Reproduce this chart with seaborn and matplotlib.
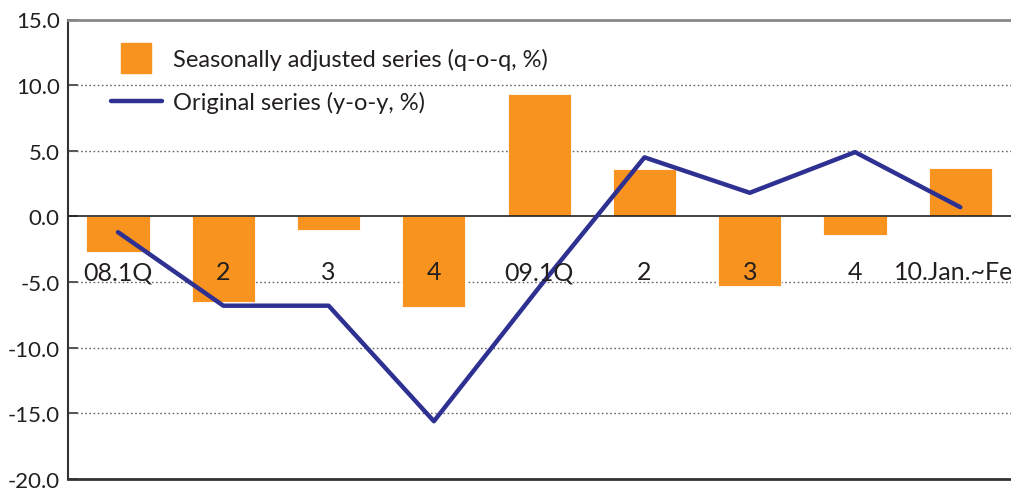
import numpy as np
import pandas as pd
import matplotlib
matplotlib.use("Agg")
import matplotlib.pyplot as plt
from matplotlib.lines import Line2D
import seaborn as sns

# Quarterly growth data
categories = ["08.1Q", "2", "3", "4", "09.1Q", "2", "3", "4", "10.Jan.~Feb"]
seasonally_adjusted = [-2.7, -6.5, -1.0, -6.9, 9.3, 3.6, -5.3, -1.4, 3.7]
original_series = [-1.2, -6.8, -6.8, -15.6, -5.4, 4.5, 1.8, 4.9, 0.7]
y_ticks = [-20, -15, -10, -5, 0, 5, 10, 15]

BAR_COLOR = "#F7931E"
LINE_COLOR = "#2E3192"
TEXT_COLOR = "#231F20"

sns.set_theme(style="white")
plt.rcParams["font.family"] = ["Lato", "DejaVu Sans"]

fig = plt.figure(figsize=(10.11, 4.89), dpi=100)
ax = fig.add_axes([68 / 1011, 9 / 489, 945 / 1011, 459.5 / 489])

pos = np.arange(len(categories))
df = pd.DataFrame({"pos": pos, "sa": seasonally_adjusted, "orig": original_series})

sns.barplot(data=df, x="pos", y="sa", color=BAR_COLOR, width=0.6,
            saturation=1, native_scale=True, edgecolor="white",
            linewidth=0.6, ax=ax, zorder=2)
sns.lineplot(data=df, x="pos", y="orig", color=LINE_COLOR, linewidth=3.2,
             sort=False, ax=ax, zorder=4)

ax.set_xlim(-0.475, 8.5)
ax.set_ylim(-20, 15)
ax.set_xlabel("")
ax.set_ylabel("")
ax.set_xticks([])
ax.set_yticks(y_ticks)
ax.set_yticklabels([f"{v:.1f}" for v in y_ticks], fontsize=16, color=TEXT_COLOR)
ax.tick_params(axis="y", direction="in", length=7, width=1.2, color="#333333",
               pad=6, left=True)

# dotted gridlines and solid zero line
for v in y_ticks:
    if v in (-20, 0, 15):
        continue
    ax.axhline(v, color="#666666", linestyle=(0, (1.2, 1.8)), linewidth=1.0, zorder=1)
ax.axhline(0, color="#222222", linewidth=1.2, zorder=3)

ax.spines["right"].set_visible(False)
ax.spines["top"].set_color("#888888")
ax.spines["top"].set_linewidth(2)
ax.spines["left"].set_color("#333333")
ax.spines["left"].set_linewidth(1.5)
ax.spines["bottom"].set_color("#333333")
ax.spines["bottom"].set_linewidth(2)

# category labels inside the plot area
for p, lab in zip(pos, categories):
    ax.text(p, -4.2, lab, ha="center", va="center", fontsize=18,
            color=TEXT_COLOR, zorder=5)

handles = [
    Line2D([], [], color=BAR_COLOR, marker="s", markersize=21, linestyle="none"),
    Line2D([], [], color=LINE_COLOR, linewidth=3.2),
]
labels = ["Seasonally adjusted series (q-o-q, %)", "Original series (y-o-y, %)"]
leg = ax.legend(handles, labels, loc="upper left", bbox_to_anchor=(0.0455, 0.938),
                frameon=False, fontsize=17, handlelength=2.16, handletextpad=0.47,
                labelspacing=0.9, borderpad=0, borderaxespad=0,
                labelcolor=TEXT_COLOR)

fig.savefig("out.png", dpi=100)
